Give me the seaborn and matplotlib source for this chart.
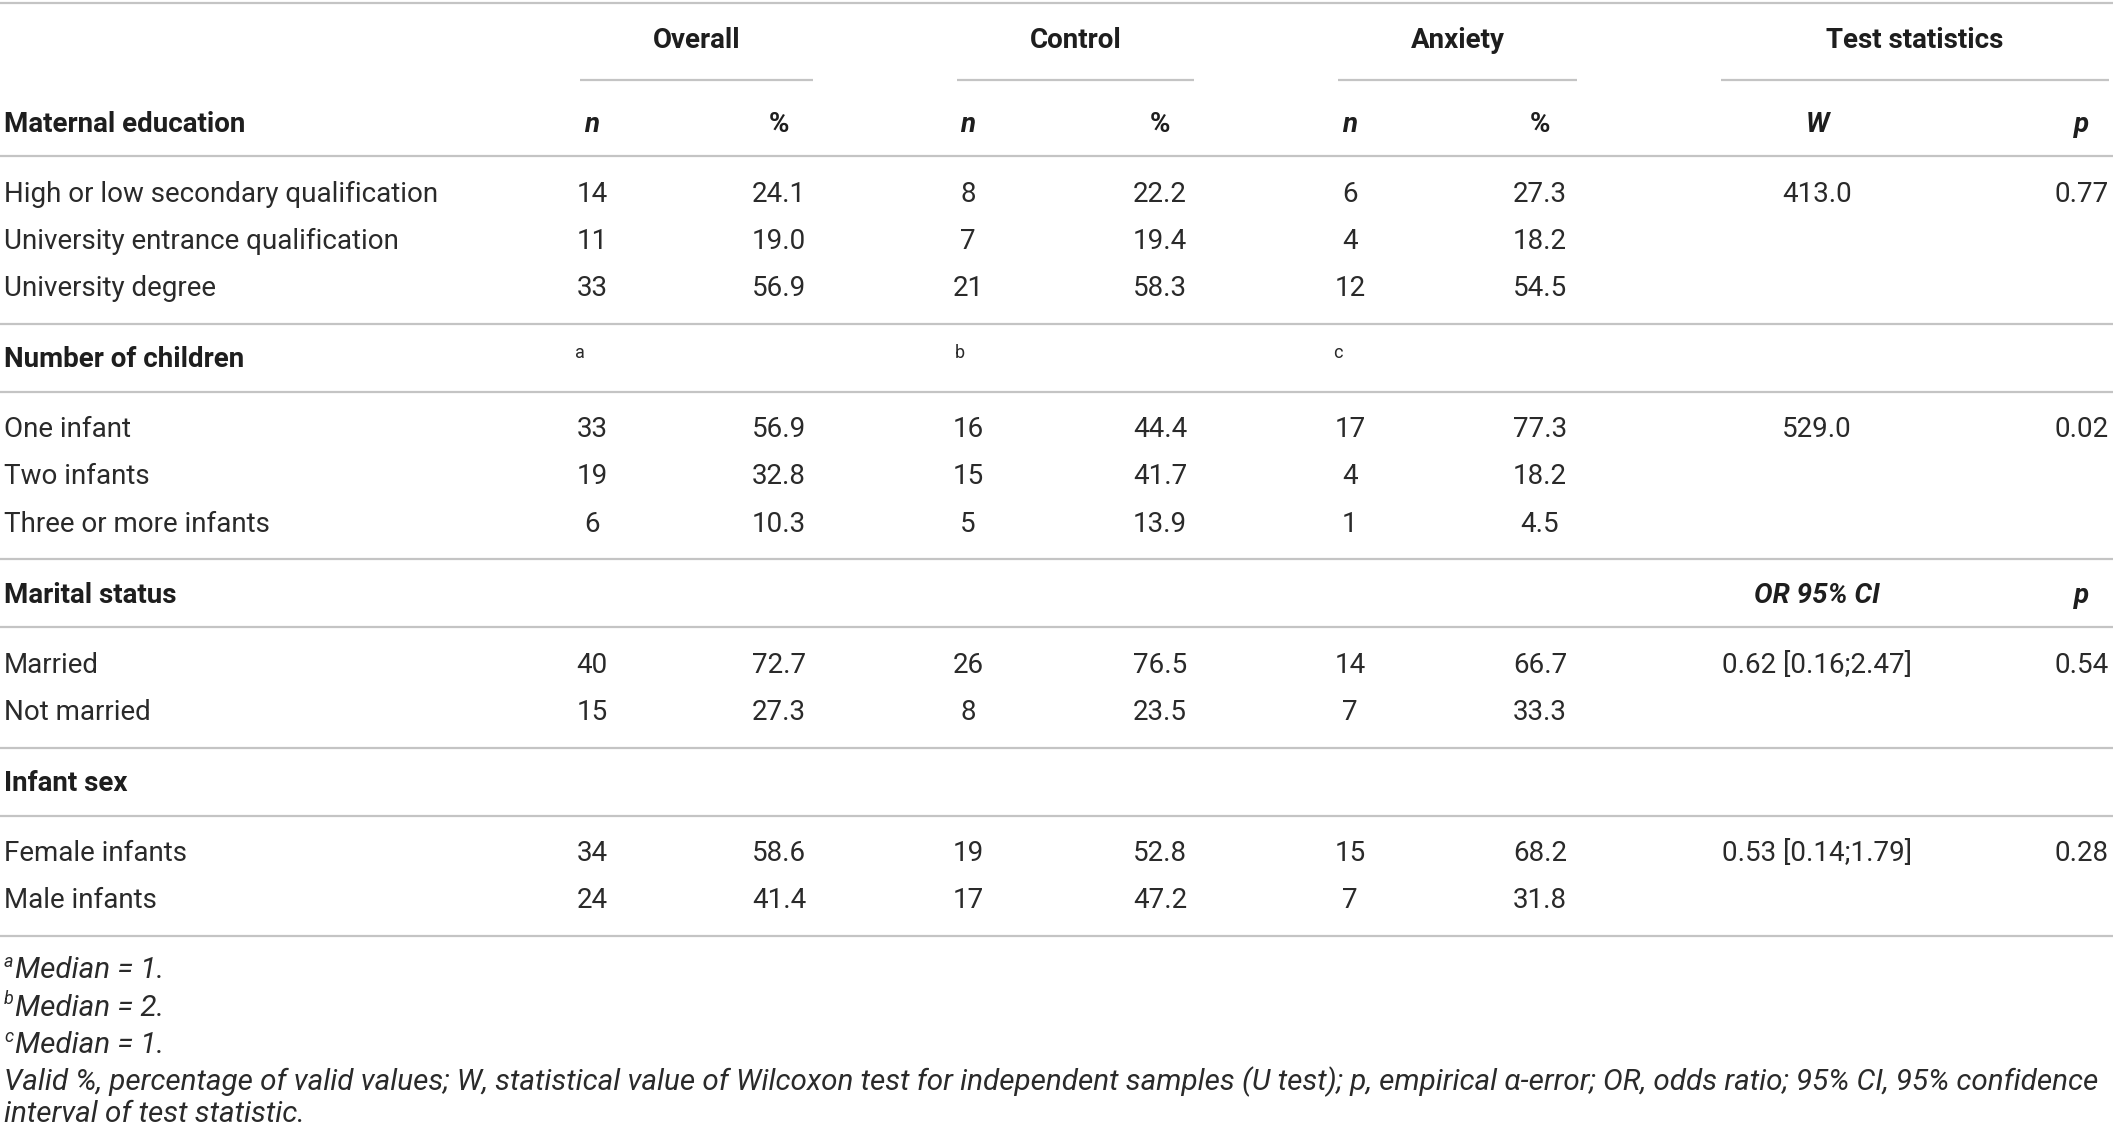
import matplotlib.pyplot as plt
import seaborn as sns

# table content
groups = ["Overall", "Control", "Anxiety", "Test statistics"]

sections = ["Maternal education", "Number of children", "Marital status", "Infant sex"]
section_marks = [None, ["a", "b", "c"], None, None]
section_stats_head = [("W", "p"), None, ("OR 95% CI", "p"), None]

row_labels = [
    ["High or low secondary qualification", "University entrance qualification", "University degree"],
    ["One infant", "Two infants", "Three or more infants"],
    ["Married", "Not married"],
    ["Female infants", "Male infants"],
]
overall_n = [[14, 11, 33], [33, 19, 6], [40, 15], [34, 24]]
overall_pct = [["24.1", "19.0", "56.9"], ["56.9", "32.8", "10.3"], ["72.7", "27.3"], ["58.6", "41.4"]]
control_n = [[8, 7, 21], [16, 15, 5], [26, 8], [19, 17]]
control_pct = [["22.2", "19.4", "58.3"], ["44.4", "41.7", "13.9"], ["76.5", "23.5"], ["52.8", "47.2"]]
anxiety_n = [[6, 4, 12], [17, 4, 1], [14, 7], [15, 7]]
anxiety_pct = [["27.3", "18.2", "54.5"], ["77.3", "18.2", "4.5"], ["66.7", "33.3"], ["68.2", "31.8"]]
stat_value = ["413.0", "529.0", "0.62 [0.16;2.47]", "0.53 [0.14;1.79]"]
p_value = ["0.77", "0.02", "0.54", "0.28"]

footnotes = [
    ("a", "Median = 1."),
    ("b", "Median = 2."),
    ("c", "Median = 1."),
]
legend_note = ("Valid %, percentage of valid values; W, statistical value of Wilcoxon test for independent "
               "samples (U test); p, empirical \u03b1-error; OR, odds ratio; 95% CI, 95% confidence")
legend_note2 = "interval of test statistic."

sns.set_theme(style="white")
plt.rcParams["font.family"] = ["Roboto", "DejaVu Sans"]

W, H = 2113, 1131
fig = plt.figure(figsize=(W / 100, H / 100), dpi=100)
ax = fig.add_axes([0, 0, 1, 1])
ax.set_xlim(0, W)
ax.set_ylim(H, 0)
ax.axis("off")

txt = "#2a2a2a"
head = "#1e1e1e"
rule = "#c4c4c4"
fs = 20
fs_note = 21.3
body_w = "normal"
col_x = [592, 779, 968, 1160, 1350, 1540]
stat_x = 1817
p_x = 2109
p_head_x = 2082


def hline(y, x0=0, x1=W):
    ax.plot([x0, x1], [y, y], color=rule, lw=1.6, solid_capstyle="butt")


# header
hline(3)
for g, (x0, x1) in zip(groups, [(580, 813), (957, 1194), (1338, 1577), (1721, 2109)]):
    ax.text((x0 + x1) / 2, 41, g, ha="center", va="center", fontsize=fs, fontweight="bold", color=head)
    hline(80, x0, x1)

y = 124
for s, sec in enumerate(sections):
    ax.text(4, y, sec, ha="left", va="center", fontsize=fs, fontweight="bold", color=head)
    if s == 0:
        for i, x in enumerate(col_x):
            lab = "n" if i % 2 == 0 else "%"
            ax.text(x, y, lab, ha="center", va="center", fontsize=fs, fontweight="bold",
                    style="italic" if lab == "n" else "normal", color=head)
    if section_marks[s]:
        for m, x in zip(section_marks[s], [580, 960, 1338]):
            ax.text(x, y - 7, m, ha="center", va="center", fontsize=fs * 0.65, fontweight=body_w, color=txt)
    if section_stats_head[s]:
        a, b = section_stats_head[s]
        ax.text(stat_x, y, a, ha="center", va="center", fontsize=fs, fontweight="bold", style="italic", color=head)
        ax.text(p_head_x, y, b, ha="center", va="center", fontsize=fs, fontweight="bold", style="italic", color=head)
    hline(y + 32)
    y += 70
    for r, lab in enumerate(row_labels[s]):
        vals = [overall_n[s][r], overall_pct[s][r], control_n[s][r], control_pct[s][r],
                anxiety_n[s][r], anxiety_pct[s][r]]
        ax.text(4, y, lab, ha="left", va="center", fontsize=fs, fontweight=body_w, color=txt)
        for x, v in zip(col_x, vals):
            ax.text(x, y, str(v), ha="center", va="center", fontsize=fs, fontweight=body_w, color=txt)
        if r == 0:
            ax.text(stat_x, y, stat_value[s], ha="center", va="center", fontsize=fs, fontweight=body_w, color=txt)
            ax.text(p_x, y, p_value[s], ha="right", va="center", fontsize=fs, fontweight=body_w, color=txt)
        y += 47.3
    y -= 47.3
    hline(y + 35)
    y += 71

# footnotes
fy = 970
for m, note in footnotes:
    ax.text(4, fy - 8, m, ha="left", va="center", fontsize=fs * 0.65, style="italic", fontweight=body_w, color=txt)
    ax.text(15, fy, note, ha="left", va="center", fontsize=fs_note, style="italic", fontweight=body_w, color=txt)
    fy += 37.5
ax.text(4, 1082, legend_note, ha="left", va="center", fontsize=fs_note, style="italic", fontweight=body_w, color=txt)
ax.text(4, 1114, legend_note2, ha="left", va="center", fontsize=fs_note, style="italic", fontweight=body_w, color=txt)

fig.savefig("out.png", dpi=100, facecolor="white")
